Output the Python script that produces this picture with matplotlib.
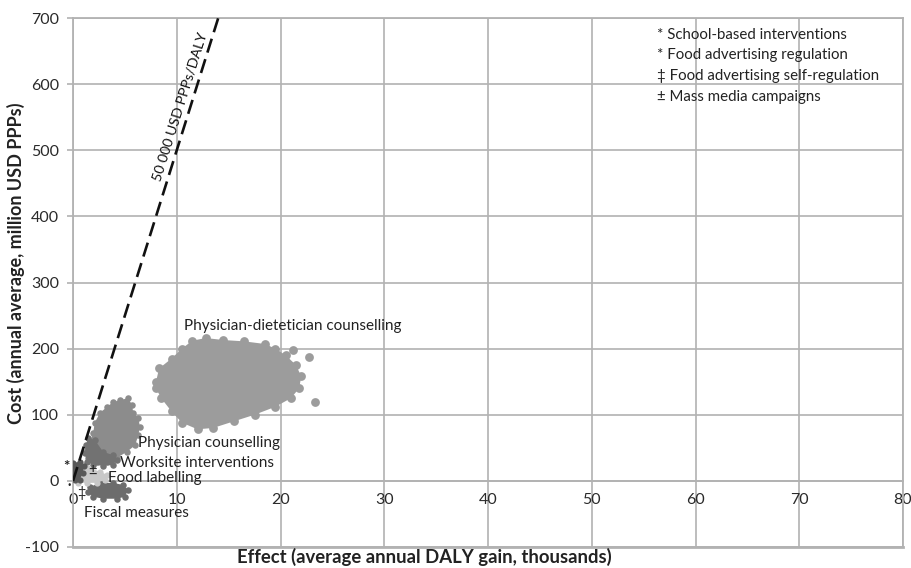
import matplotlib
matplotlib.use("Agg")
import matplotlib.pyplot as plt
import numpy as np

plt.rcParams['font.family'] = ['Lato', 'DejaVu Sans']
plt.rcParams['axes.unicode_minus'] = False

# Cost-effectiveness clouds: outline vertices (effect in thousand DALYs, cost in million USD PPPs)
diet_x = [8.0, 8.3, 9.5, 10.5, 11.5, 12.8, 14.5, 16.5, 18.5, 19.5, 20.5, 21.5, 22.0, 21.8,
          21.0, 19.5, 17.5, 15.5, 13.5, 12.0, 10.5, 9.5, 8.5, 8.0]
diet_y = [150, 170, 185, 200, 212, 216, 213, 211, 207, 200, 190, 175, 158, 140,
          125, 112, 100, 90, 80, 78, 88, 105, 125, 140]
diet_out_x = [22.7, 23.3, 21.2]
diet_out_y = [187, 119, 198]

phys_x = [4.5, 5.3, 5.7, 5.8, 6.3, 6.45, 6.3, 6.0, 5.2, 4.25, 3.3, 2.3, 1.45, 1.35, 1.65, 1.95, 2.1, 2.6, 3.3, 3.85]
phys_y = [122, 125, 115, 103, 95, 82, 70, 54, 44, 35, 29, 29, 35, 47, 59, 73, 88, 103, 112, 119]

work_x = [1.45, 2.1, 2.9, 3.85, 4.25, 3.85, 2.9, 1.95, 1.35, 1.15, 1.25]
work_y = [65, 62, 44, 39, 32, 24, 23, 24, 29, 42, 54]

label_x = [0.5, 1.45, 2.6, 3.3, 3.1, 2.3, 1.35, 0.5, 0.2]
label_y = [17, 20, 14, 9, 1.5, -3, -3, -3, 4.5]

school_x = [0.0, 0.65, 1.05, 0.95, 0.65, 0.2, 0.0]
school_y = [27, 29, 23, 12, 1.5, 1.5, 12]

fiscal_x = [1.65, 2.6, 3.85, 4.8, 5.3, 5.0, 4.25, 2.9, 1.95, 1.45]
fiscal_y = [-9, -3, -3, -6, -14, -24, -27, -27, -24, -17]

threshold = 50  # million USD per thousand DALYs (50 000 USD PPPs/DALY)

x_ticks = [0, 10, 20, 30, 40, 50, 60, 70, 80]
y_ticks = [-100, 0, 100, 200, 300, 400, 500, 600, 700]

legend_lines = ["* School-based interventions",
                "* Food advertising regulation",
                "\u2021 Food advertising self-regulation",
                "\u00b1 Mass media campaigns"]

fig = plt.figure(figsize=(9.11, 5.68), dpi=100)
ax = fig.add_axes([73 / 911, 1 - 547 / 568, 830 / 911, 529 / 568])
ax.set_xlim(0, 80)
ax.set_ylim(-100, 700)

grid_c = '#b2b2b2'
ax.set_xticks(x_ticks)
ax.set_yticks(y_ticks)
ax.grid(True, color=grid_c, lw=1.2)
ax.set_axisbelow(True)
for side in ['top', 'right', 'left', 'bottom']:
    ax.spines[side].set_color(grid_c)
    ax.spines[side].set_linewidth(1.3)
ax.spines['bottom'].set_position(('data', 0))
ax.axhline(-100, color=grid_c, lw=2.0, clip_on=False)
ax.tick_params(axis='x', length=0, pad=9, labelsize=11.5, colors='#2a2a2a')
ax.tick_params(axis='y', length=4, width=1.2, color=grid_c, pad=6, labelsize=11.5, labelcolor='#2a2a2a')


def cloud(xs, ys, color, z, s=40):
    ax.fill(xs, ys, color=color, lw=0, zorder=z)
    ax.scatter(xs, ys, s=s, color=color, lw=0, zorder=z)


cloud(diet_x, diet_y, '#9c9c9c', 3)
ax.scatter(diet_out_x, diet_out_y, s=40, color='#9c9c9c', lw=0, zorder=3)
cloud(phys_x, phys_y, '#8c8c8c', 4, s=22)
cloud(work_x, work_y, '#727272', 5, s=22)
cloud(label_x, label_y, '#c8c8c8', 6, s=20)
cloud(school_x, school_y, '#585858', 7, s=20)
cloud(fiscal_x, fiscal_y, '#6c6c6c', 5, s=22)

# Cost-effectiveness threshold line
tx = np.array([0, 700 / threshold])
ax.plot(tx, threshold * tx, color='#111111', lw=1.9, dashes=(5.5, 2.6), zorder=8)
ax.text(10.3, 566, "50 000 USD PPPs/DALY", rotation=72.5, ha='center', va='center',
        fontsize=10.3, color='#111111', zorder=9)

tc = '#222222'
fs = 11
ax.text(10.7, 228, "Physician-dietetician counselling", fontsize=fs, color=tc, zorder=9)
ax.text(6.3, 57, "Physician counselling", fontsize=fs, color=tc, ha='left', va='center', zorder=9)
ax.text(4.5, 27, "Worksite interventions", fontsize=fs, color=tc, ha='left', va='center', zorder=9)
ax.text(3.4, 5, "Food labelling", fontsize=fs, color=tc, ha='left', va='center', zorder=9)
ax.text(1.1, -48, "Fiscal measures", fontsize=fs, color=tc, ha='left', va='center', zorder=9)

# symbols marking the small interventions near the origin
ax.text(-0.6, 21, "*", fontsize=11, fontweight='bold', color=tc, ha='center', va='center',
        zorder=9, clip_on=False)
ax.text(-0.4, -6, "\u00b7", fontsize=9, fontweight='bold', color=tc, ha='center', va='center',
        zorder=9, clip_on=False)
ax.text(1.85, 15, "\u00b1", fontsize=10.5, color=tc, ha='center', va='center', zorder=9)
ax.text(0.85, -18, "\u2021", fontsize=10.5, color=tc, ha='center', va='center', zorder=9)

for i, line in enumerate(legend_lines):
    fig.text(657 / 911, 1 - (35 + i * 20.5) / 568, line, fontsize=10.8, color=tc,
             ha='left', va='center')

fig.text(424 / 911, 1 - 557 / 568, "Effect (average annual DALY gain, thousands)",
         fontsize=13.3, fontweight='bold', color=tc, ha='center', va='center')
fig.text(16 / 911, 1 - 263 / 568, "Cost (annual average, million USD PPPs)",
         fontsize=13, fontweight='bold', color=tc, ha='center', va='center', rotation=90)

fig.savefig("out.png", dpi=100)
